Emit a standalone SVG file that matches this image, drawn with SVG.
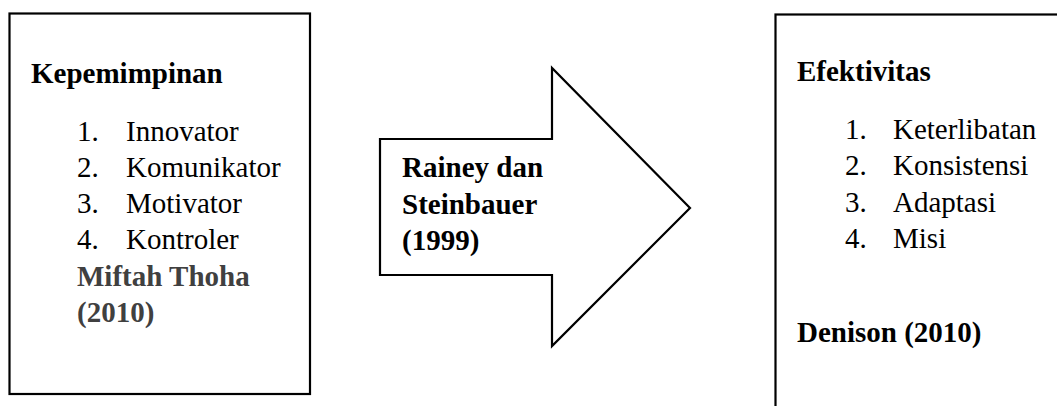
<svg xmlns="http://www.w3.org/2000/svg" width="1057" height="406" viewBox="0 0 1057 406">
  <style>
    .box { fill: #ffffff; stroke: #000000; stroke-width: 2.2; }
    .t { font-family: "Liberation Serif", "Times New Roman", serif; font-size: 29px; fill: #000000; }
    .b { font-weight: bold; }
    .gray { fill: #404040; }
  </style>
  <rect width="1057" height="406" fill="#ffffff"/>

  <!-- Leadership variable -->
  <g id="kepemimpinan">
    <rect class="box" x="9.5" y="13.5" width="300.5" height="380.5"/>
    <text class="t b" x="31" y="83">Kepemimpinan</text>
    <text class="t" x="77" y="141">1.</text><text class="t" x="126" y="141">Innovator</text>
    <text class="t" x="77" y="177">2.</text><text class="t" x="126" y="177">Komunikator</text>
    <text class="t" x="77" y="213">3.</text><text class="t" x="126" y="213">Motivator</text>
    <text class="t" x="77" y="249">4.</text><text class="t" x="126" y="249">Kontroler</text>
    <text class="t b gray" x="77" y="286">Miftah Thoha</text>
    <text class="t b gray" x="77" y="322">(2010)</text>
  </g>

  <!-- Block arrow between the variables -->
  <g id="connectors">
    <polygon class="box" points="380,139 552,139 552,68 690,208 552,346 552,275 380,275"/>
    <text class="t b" x="402" y="177">Rainey dan</text>
    <text class="t b" x="402" y="214">Steinbauer</text>
    <text class="t b" x="402" y="250">(1999)</text>
  </g>

  <!-- Effectiveness variable -->
  <g id="efektivitas">
    <rect class="box" x="775.5" y="14.5" width="320" height="420"/>
    <text class="t b" x="797" y="81">Efektivitas</text>
    <text class="t" x="845" y="139">1.</text><text class="t" x="893" y="139">Keterlibatan</text>
    <text class="t" x="845" y="175">2.</text><text class="t" x="893" y="175">Konsistensi</text>
    <text class="t" x="845" y="212">3.</text><text class="t" x="893" y="212">Adaptasi</text>
    <text class="t" x="845" y="248">4.</text><text class="t" x="893" y="248">Misi</text>
    <text class="t b" x="797" y="342">Denison (2010)</text>
  </g>
</svg>
